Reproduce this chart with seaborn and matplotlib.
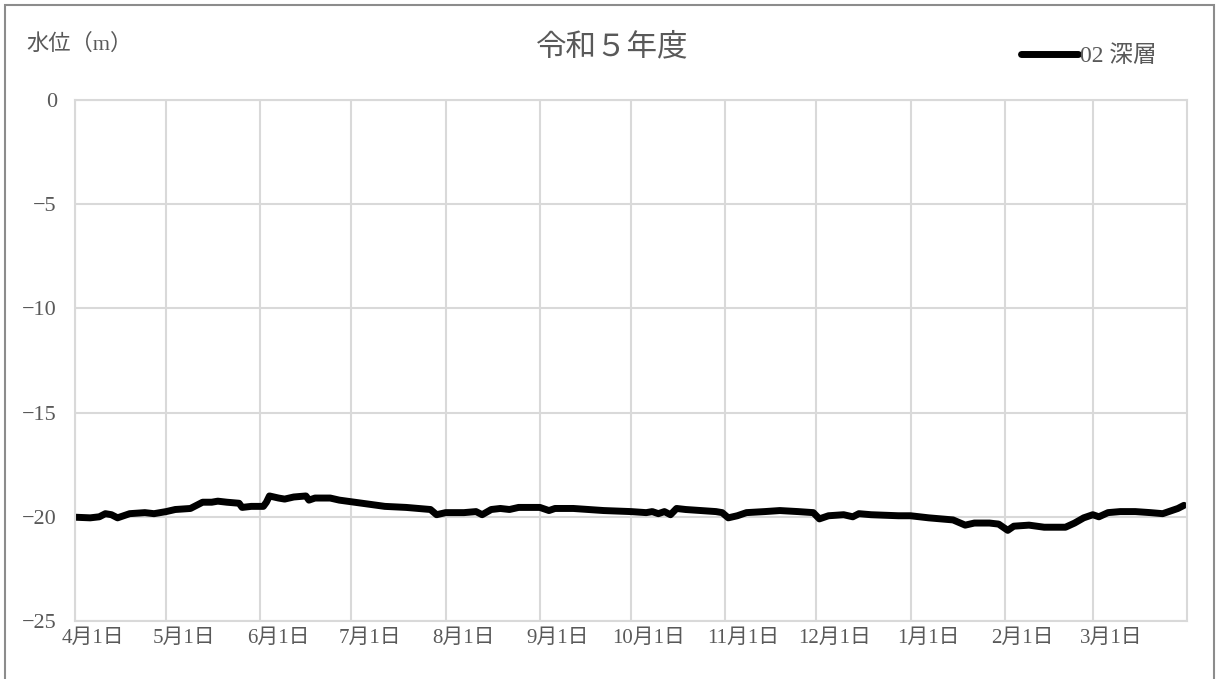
import numpy as np
import pandas as pd
import matplotlib
matplotlib.use("Agg")
import matplotlib.pyplot as plt
import matplotlib.transforms as mtransforms
import seaborn as sns

# --- データ (令和5年度 02 深層 水位) ---
inicio = "2023-04-01"
dias = [0, 5, 8, 10, 12, 14, 16, 18, 23, 26, 30, 33, 38, 40, 42, 45, 47, 50, 54, 55,
        58, 62, 63, 64, 67, 69, 72, 76, 77, 79, 84, 87, 92, 97, 102, 109, 113, 117, 119, 122,
        128, 132, 134, 137, 140, 143, 146, 153, 156, 158, 164, 169, 174, 183, 188, 190, 192, 194, 196, 198,
        201, 206, 211, 213, 215, 218, 221, 227, 232, 238, 243, 245, 248, 253, 256, 258, 262, 271, 275, 281,
        289, 293, 296, 301, 304, 307, 309, 314, 319, 326, 329, 332, 335, 337, 340, 344, 349, 354, 358, 361,
        363, 365]
nivel = [-20.02, -20.05, -20.0, -19.85, -19.9, -20.05, -19.95, -19.85, -19.8, -19.85, -19.75, -19.65, -19.6, -19.45, -19.3, -19.3, -19.25, -19.3, -19.35, -19.55,
         -19.5, -19.5, -19.3, -19.0, -19.1, -19.15, -19.05, -19.0, -19.2, -19.1, -19.1, -19.2, -19.3, -19.4, -19.5, -19.55, -19.6, -19.65, -19.9, -19.8,
         -19.8, -19.75, -19.9, -19.65, -19.6, -19.65, -19.55, -19.55, -19.7, -19.6, -19.6, -19.65, -19.7, -19.75, -19.8, -19.75, -19.85, -19.75, -19.9, -19.6,
         -19.65, -19.7, -19.75, -19.8, -20.05, -19.95, -19.8, -19.75, -19.7, -19.75, -19.8, -20.1, -19.95, -19.9, -20.0, -19.85, -19.9, -19.95, -19.95, -20.05,
         -20.15, -20.4, -20.3, -20.3, -20.35, -20.65, -20.45, -20.4, -20.5, -20.5, -20.3, -20.05, -19.9, -20.0, -19.8, -19.75, -19.75, -19.8, -19.85, -19.7,
         -19.6, -19.45]

meses = ["2023-04-01", "2023-05-01", "2023-06-01", "2023-07-01", "2023-08-01", "2023-09-01",
         "2023-10-01", "2023-11-01", "2023-12-01", "2024-01-01", "2024-02-01", "2024-03-01"]
etiquetas_x = ["4月1日", "5月1日", "6月1日", "7月1日", "8月1日", "9月1日",
               "10月1日", "11月1日", "12月1日", "1月1日", "2月1日", "3月1日"]
ticks_y = [0, -5, -10, -15, -20, -25]

fechas = pd.to_datetime(inicio) + pd.to_timedelta(dias, unit="D")
df = pd.DataFrame({"fecha": fechas, "nivel": nivel})

sns.set_theme(style="white")
plt.rcParams["font.family"] = ["Liberation Serif", "Noto Sans CJK JP", "DejaVu Sans"]
gris_texto = "#595959"
gris_rejilla = "#d9d9d9"

fig = plt.figure(figsize=(12.16, 6.79), dpi=100)
ax = fig.add_axes([75 / 1216, 1 - 621 / 679, 1112 / 1216, 521 / 679])

sns.lineplot(data=df, x="fecha", y="nivel", ax=ax, color="black", linewidth=5,
             label="02 深層", legend=False)

ax.set_xlim(pd.to_datetime("2023-04-01"), pd.to_datetime("2024-04-01"))
ax.set_ylim(-25, 0)
ax.set_xticks(pd.to_datetime(meses))
ax.set_xticklabels(etiquetas_x)
ax.set_yticks(ticks_y)
ax.grid(True, color=gris_rejilla, linewidth=1.5)
ax.set_xlabel(""); ax.set_ylabel("")
ax.tick_params(axis="both", length=0, labelsize=15, colors=gris_texto)
ax.tick_params(axis="y", pad=13, labelsize=16)
ax.tick_params(axis="x", pad=6)
for s in ax.spines.values():
    s.set_color(gris_rejilla); s.set_linewidth(1.5)

# etiquetas del eje x algo desplazadas a la derecha, como en el original
desplaza = mtransforms.ScaledTranslation(18 / 100, 0, fig.dpi_scale_trans)
for lab in ax.get_xticklabels():
    lab.set_transform(lab.get_transform() + desplaza)

fig.text(26 / 1216, 1 - 44 / 679, "水位（m）", fontsize=16, color=gris_texto, ha="left", va="center")
fig.text(612 / 1216, 1 - 48 / 679, "令和５年度", fontsize=22, color=gris_texto, ha="center", va="center")

fig.legend(loc="center left", bbox_to_anchor=(1021 / 1216, 1 - 56 / 679), frameon=False,
           fontsize=17, handlelength=2.4, handletextpad=0.1, labelcolor=gris_texto,
           borderpad=0, borderaxespad=0)

fig.add_artist(plt.Rectangle((5 / 1216, -0.05), 1209 / 1216, 1.05 - 5 / 679, transform=fig.transFigure,
                             fill=False, edgecolor="#8c8c8c", linewidth=1.5))

fig.savefig("out.png", dpi=100)
